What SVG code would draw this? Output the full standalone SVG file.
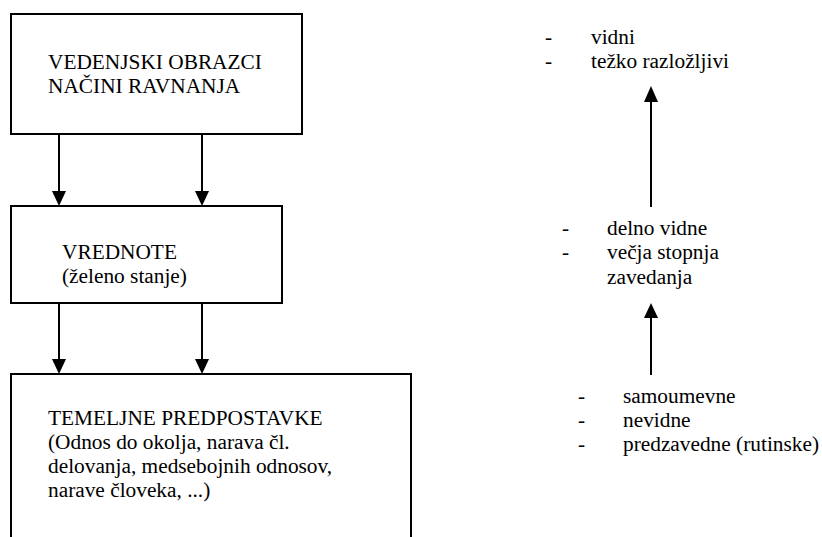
<svg xmlns="http://www.w3.org/2000/svg" width="822" height="537" viewBox="0 0 822 537">
<style>
.t{font-family:'Liberation Serif','Times New Roman',serif;font-size:21.33px;fill:#000}
.box{fill:#fff;stroke:#000;stroke-width:2}
.ln{stroke:#000;stroke-width:2;fill:none}
.ah{fill:#000}
</style>
<rect width="822" height="537" fill="#fff"/>
<g id="connectors">
<line class="ln" x1="59" y1="134" x2="59" y2="192"/>
<polygon class="ah" points="52,191 66,191 59,206"/>
<line class="ln" x1="202" y1="134" x2="202" y2="192"/>
<polygon class="ah" points="195,191 209,191 202,206"/>
<line class="ln" x1="59" y1="303" x2="59" y2="360"/>
<polygon class="ah" points="52,359 66,359 59,374"/>
<line class="ln" x1="202" y1="303" x2="202" y2="360"/>
<polygon class="ah" points="195,359 209,359 202,374"/>
<line class="ln" x1="651" y1="207" x2="651" y2="100"/>
<polygon class="ah" points="644,102 658,102 651,86"/>
<line class="ln" x1="651" y1="375" x2="651" y2="316"/>
<polygon class="ah" points="644,318 658,318 651,303"/>
</g>
<g id="node-vedenjski" class="t">
<rect class="box" x="11" y="14" width="291" height="120"/>
<text x="48" y="69">VEDENJSKI OBRAZCI</text>
<text x="48" y="93">NAČINI RAVNANJA</text>
</g>
<g id="node-vrednote" class="t">
<rect class="box" x="11" y="206" width="271" height="97"/>
<text x="62" y="259">VREDNOTE</text>
<text x="62" y="283">(želeno stanje)</text>
</g>
<g id="node-temeljne" class="t">
<path class="box" d="M11,540 L11,374 L411,374 L411,540"/>
<text x="48" y="425">TEMELJNE PREDPOSTAVKE</text>
<text x="48" y="449">(Odnos do okolja, narava čl.</text>
<text x="48" y="473">delovanja, medsebojnih odnosov,</text>
<text x="48" y="497">narave človeka, ...)</text>
</g>
<g id="list-top" class="t">
<text x="545" y="44">-</text>
<text x="591" y="44">vidni</text>
<text x="545" y="68">-</text>
<text x="591" y="68">težko razložljivi</text>
</g>
<g id="list-middle" class="t">
<text x="562" y="235">-</text>
<text x="607" y="235">delno vidne</text>
<text x="562" y="259">-</text>
<text x="607" y="259">večja stopnja</text>
<text x="607" y="284">zavedanja</text>
</g>
<g id="list-bottom" class="t">
<text x="578" y="403">-</text>
<text x="623" y="403">samoumevne</text>
<text x="578" y="427">-</text>
<text x="623" y="427">nevidne</text>
<text x="578" y="451">-</text>
<text x="623" y="451">predzavedne (rutinske)</text>
</g>
</svg>
